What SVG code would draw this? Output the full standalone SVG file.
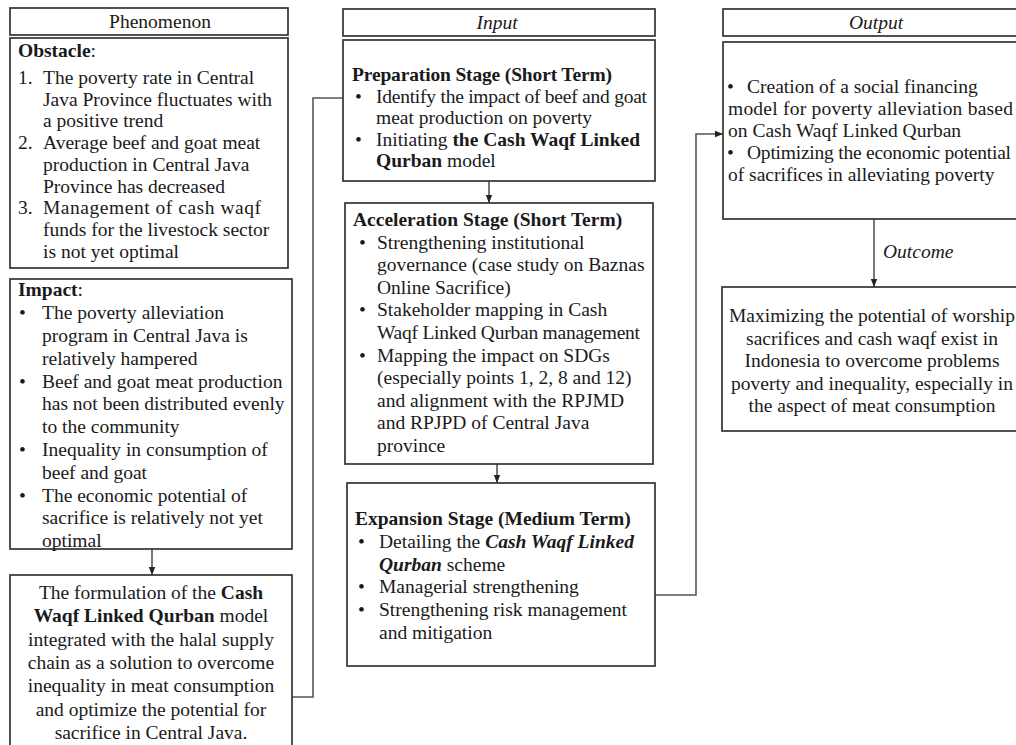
<svg xmlns="http://www.w3.org/2000/svg" width="1016" height="745" viewBox="0 0 1016 745">
<style>
  .box{fill:#fff;stroke:#333;stroke-width:1.7}
  .t{font-family:"Liberation Serif","Times New Roman",serif;font-size:19.5px;fill:#1a1a1a}
  .c{text-anchor:middle}
  .b{font-weight:bold}
  .i{font-style:italic}
  .bi{font-weight:bold;font-style:italic}
  .ln{fill:none;stroke:#555;stroke-width:1.6}
</style>
<defs>
  <marker id="ah" viewBox="0 0 8 8" refX="8" refY="4" markerWidth="8" markerHeight="8" markerUnits="userSpaceOnUse" orient="auto">
    <path d="M0,0.8 L8,4 L0,7.2 Z" fill="#222"/>
  </marker>
</defs>
<rect width="1016" height="745" fill="#fff"/>

<g id="connectors">
  <line class="ln" x1="152" y1="549" x2="152" y2="575" marker-end="url(#ah)"/>
  <polyline class="ln" points="292,697 313,697 313,98 343,98"/>
  <line class="ln" x1="489" y1="181" x2="489" y2="203" marker-end="url(#ah)"/>
  <line class="ln" x1="497" y1="464" x2="497" y2="483" marker-end="url(#ah)"/>
  <polyline class="ln" points="655,595 696,595 696,134 723,134" marker-end="url(#ah)"/>
  <line class="ln" x1="874" y1="219" x2="874" y2="287" marker-end="url(#ah)"/>
  <text class="t i" x="883" y="258">Outcome</text>
</g>

<g id="phenomenon-header">
  <rect class="box" x="10" y="8" width="278" height="27"/>
  <text class="t c" x="160" y="28">Phenomenon</text>
</g>

<g id="obstacle">
  <rect class="box" x="10" y="38" width="278" height="230"/>
  <text class="t" x="18" y="57"><tspan class="b">Obstacle</tspan>:</text>
  <text class="t" x="18" y="84">1.</text>
  <text class="t" x="43" y="84">The poverty rate in Central</text>
  <text class="t" x="43" y="106">Java Province fluctuates with</text>
  <text class="t" x="43" y="127">a positive trend</text>
  <text class="t" x="18" y="149">2.</text>
  <text class="t" x="43" y="149">Average beef and goat meat</text>
  <text class="t" x="43" y="171">production in Central Java</text>
  <text class="t" x="43" y="193">Province has decreased</text>
  <text class="t" x="18" y="214">3.</text>
  <text class="t" x="43" y="214" textLength="218">Management of cash waqf</text>
  <text class="t" x="43" y="236">funds for the livestock sector</text>
  <text class="t" x="43" y="258">is not yet optimal</text>
</g>

<g id="impact">
  <rect class="box" x="10" y="279" width="282" height="270"/>
  <text class="t" x="18" y="296"><tspan class="b">Impact</tspan>:</text>
  <text class="t" x="19" y="319">•</text>
  <text class="t" x="42" y="319">The poverty alleviation</text>
  <text class="t" x="42" y="342">program in Central Java is</text>
  <text class="t" x="42" y="364.5">relatively hampered</text>
  <text class="t" x="19" y="387.5">•</text>
  <text class="t" x="42" y="387.5">Beef and goat meat production</text>
  <text class="t" x="42" y="410">has not been distributed evenly</text>
  <text class="t" x="42" y="433">to the community</text>
  <text class="t" x="19" y="456">•</text>
  <text class="t" x="42" y="456">Inequality in consumption of</text>
  <text class="t" x="42" y="478.5">beef and goat</text>
  <text class="t" x="19" y="501.5">•</text>
  <text class="t" x="42" y="501.5">The economic potential of</text>
  <text class="t" x="42" y="524">sacrifice is relatively not yet</text>
  <text class="t" x="42" y="547">optimal</text>
</g>

<g id="solution">
  <rect class="box" x="10" y="575" width="282" height="190"/>
  <text class="t c" x="151" y="599">The formulation of the <tspan class="b">Cash</tspan></text>
  <text class="t c" x="151" y="622"><tspan class="b">Waqf Linked Qurban</tspan> model</text>
  <text class="t c" x="151" y="646">integrated with the halal supply</text>
  <text class="t c" x="151" y="669">chain as a solution to overcome</text>
  <text class="t c" x="151" y="692">inequality in meat consumption</text>
  <text class="t c" x="151" y="716">and optimize the potential for</text>
  <text class="t c" x="151" y="739">sacrifice in Central Java.</text>
</g>

<g id="input-header">
  <rect class="box" x="343" y="9" width="312" height="27"/>
  <text class="t c i" x="497" y="29">Input</text>
</g>

<g id="preparation">
  <rect class="box" x="343" y="40" width="312" height="141"/>
  <text class="t b" x="352" y="81" textLength="260">Preparation Stage (Short Term)</text>
  <text class="t" x="355" y="102.5">•</text>
  <text class="t" x="376" y="102.5" textLength="271">Identify the impact of beef and goat</text>
  <text class="t" x="376" y="124">meat production on poverty</text>
  <text class="t" x="355" y="145.5">•</text>
  <text class="t" x="376" y="145.5">Initiating <tspan class="b">the Cash Waqf Linked</tspan></text>
  <text class="t" x="376" y="167"><tspan class="b">Qurban</tspan> model</text>
</g>

<g id="acceleration">
  <rect class="box" x="345" y="203" width="308" height="261"/>
  <text class="t b" x="353" y="226">Acceleration Stage (Short Term)</text>
  <text class="t" x="359" y="248.6">•</text>
  <text class="t" x="377" y="248.6">Strengthening institutional</text>
  <text class="t" x="377" y="271.2">governance (case study on Baznas</text>
  <text class="t" x="377" y="293.8">Online Sacrifice)</text>
  <text class="t" x="359" y="316.4">•</text>
  <text class="t" x="377" y="316.4">Stakeholder mapping in Cash</text>
  <text class="t" x="377" y="339" textLength="263">Waqf Linked Qurban management</text>
  <text class="t" x="359" y="361.6">•</text>
  <text class="t" x="377" y="361.6">Mapping the impact on SDGs</text>
  <text class="t" x="377" y="384.2">(especially points 1, 2, 8 and 12)</text>
  <text class="t" x="377" y="406.8">and alignment with the RPJMD</text>
  <text class="t" x="377" y="429.4">and RPJPD of Central Java</text>
  <text class="t" x="377" y="452">province</text>
</g>

<g id="expansion">
  <rect class="box" x="347" y="483" width="308" height="183"/>
  <text class="t b" x="355" y="525">Expansion Stage (Medium Term)</text>
  <text class="t" x="358" y="548">•</text>
  <text class="t" x="379" y="548">Detailing the <tspan class="bi">Cash Waqf Linked</tspan></text>
  <text class="t" x="379" y="570.5"><tspan class="bi">Qurban</tspan> scheme</text>
  <text class="t" x="358" y="593">•</text>
  <text class="t" x="379" y="593">Managerial strengthening</text>
  <text class="t" x="358" y="616">•</text>
  <text class="t" x="379" y="616">Strengthening risk management</text>
  <text class="t" x="379" y="638.5">and mitigation</text>
</g>

<g id="output-header">
  <rect class="box" x="723" y="9" width="306" height="27"/>
  <text class="t c i" x="876" y="29">Output</text>
</g>

<g id="output">
  <rect class="box" x="723" y="42" width="306" height="177"/>
  <text class="t" x="727" y="93">•</text>
  <text class="t" x="747" y="93">Creation of a social financing</text>
  <text class="t" x="728" y="115" textLength="285">model for poverty alleviation based</text>
  <text class="t" x="728" y="137">on Cash Waqf Linked Qurban</text>
  <text class="t" x="727" y="159">•</text>
  <text class="t" x="747" y="159" textLength="264">Optimizing the economic potential</text>
  <text class="t" x="728" y="181">of sacrifices in alleviating poverty</text>
</g>

<g id="outcome">
  <rect class="box" x="722" y="287" width="306" height="144"/>
  <text class="t c" x="872" y="322">Maximizing the potential of worship</text>
  <text class="t c" x="872" y="344.5">sacrifices and cash waqf exist in</text>
  <text class="t c" x="872" y="367">Indonesia to overcome problems</text>
  <text class="t c" x="872" y="389.5">poverty and inequality, especially in</text>
  <text class="t c" x="872" y="412">the aspect of meat consumption</text>
</g>
</svg>
